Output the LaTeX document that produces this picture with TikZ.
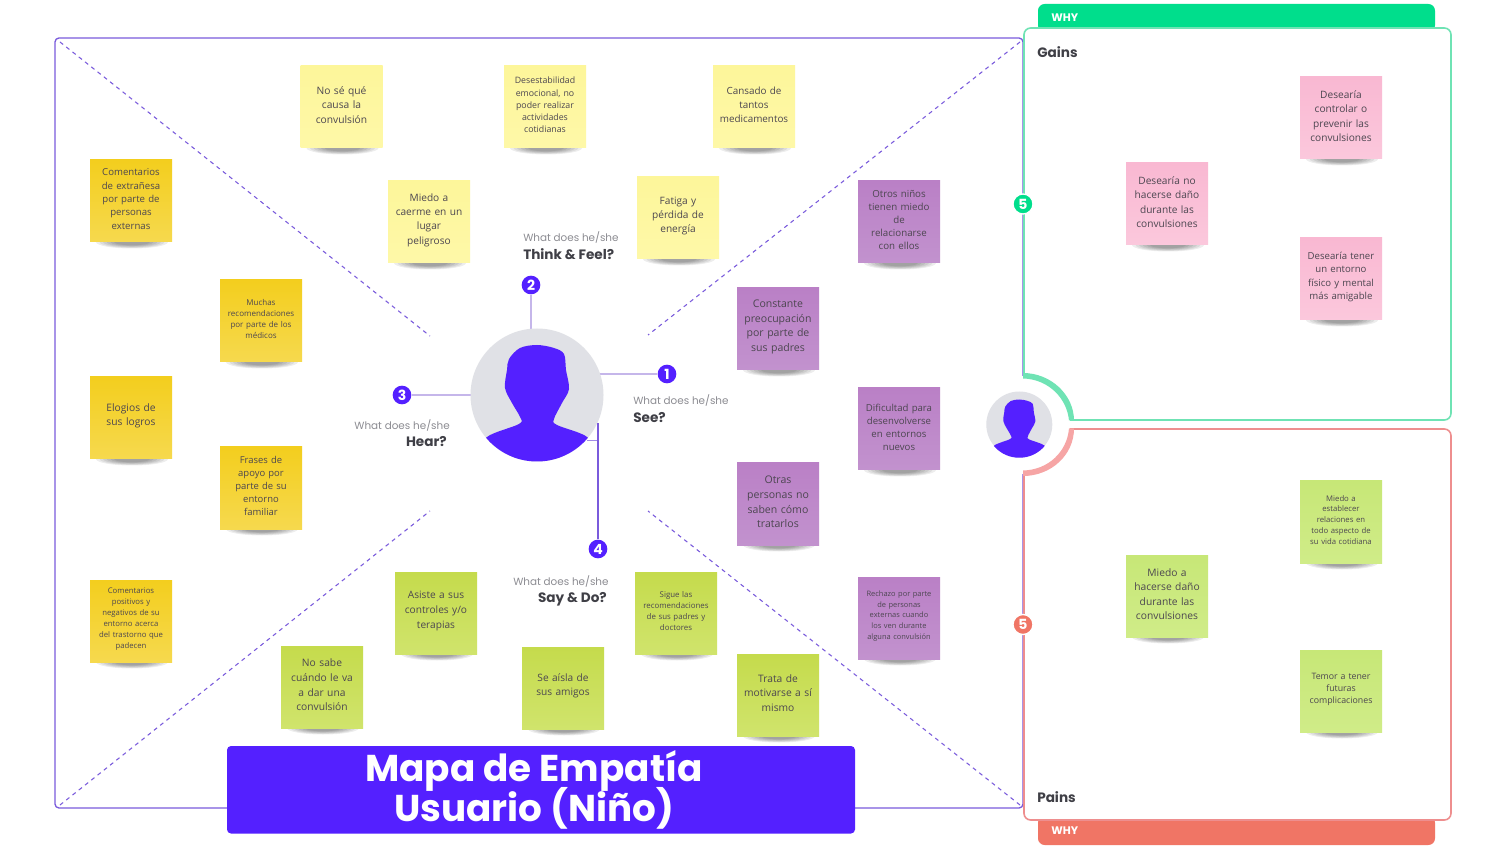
\documentclass[tikz,border=0pt]{standalone}
\usepackage{fontspec}
\setmainfont{Poppins}
\newfontfamily\notefont{Open Sans}
\definecolor{brand}{HTML}{5420FF}
\definecolor{framec}{HTML}{7A5BDC}
\definecolor{linec}{HTML}{C5B6EA}
\definecolor{mint}{HTML}{6FE3B4}
\definecolor{tabgreen}{HTML}{00DE8C}
\definecolor{tabred}{HTML}{F07565}
\definecolor{rosec}{HTML}{EE8E8E}
\definecolor{rosel}{HTML}{F6A5A5}
\definecolor{ink}{HTML}{4C4650}
\definecolor{headc}{HTML}{3F3F46}
\definecolor{subc}{HTML}{8C8C92}
\definecolor{disc}{HTML}{E0E1E6}
\definecolor{lemonA}{HTML}{FDF69A}\definecolor{lemonB}{HTML}{FEF8A8}
\definecolor{sunA}{HTML}{F3CE1E}\definecolor{sunB}{HTML}{F6D94E}
\definecolor{limeA}{HTML}{C5DB4C}\definecolor{limeB}{HTML}{D0E46C}
\definecolor{grapeA}{HTML}{BA80C6}\definecolor{grapeB}{HTML}{C292CE}
\definecolor{blushA}{HTML}{F9B8D2}\definecolor{blushB}{HTML}{FBC8DC}
\definecolor{freshA}{HTML}{C7E777}\definecolor{freshB}{HTML}{D0EC88}
\tikzset{
  x=0.75pt,y=-0.75pt,
  note/.style={minimum width=61.5pt,minimum height=61.5pt,inner sep=1pt,text width=59pt,align=center,text=ink},
  lemon/.style={note,top color=lemonA,bottom color=lemonB},
  sun/.style={note,top color=sunA,bottom color=sunB},
  lime/.style={note,top color=limeA,bottom color=limeB},
  grape/.style={note,top color=grapeA,bottom color=grapeB},
  blush/.style={note,top color=blushA,bottom color=blushB},
  fresh/.style={note,top color=freshA,bottom color=freshB},
  badge/.style={circle,fill=brand,text=white,inner sep=0pt,minimum size=14pt,font=\bfseries\fontsize{10.5}{10}\selectfont},
  spoke/.style={linec,line width=1.1pt},
  spokedark/.style={framec,line width=0.9pt},
  diag/.style={framec,line width=0.8pt,dash pattern=on 3pt off 3pt},
  sub/.style={text=subc,inner sep=0pt,font=\fontsize{7.8}{10}\selectfont},
  head/.style={text=headc,inner sep=0pt,font=\bfseries\fontsize{10.2}{12}\selectfont},
  whytext/.style={text=white,inner sep=0pt,font=\bfseries\fontsize{8.2}{10}\selectfont},
}
% name, x, y, style, size, leading, text
\newcommand{\stk}[7]{%
  \foreach \rr in {1,0.9,0.8,0.7,0.6,0.5}{\fill[black,opacity=0.07] (#2+1,#3+41) ellipse ({36*\rr} and {6.5*\rr});}
  \node[#4,font=\notefont\fontsize{#5}{#6}\selectfont] (#1) at (#2,#3) {#7\par\vspace{3pt}};}
% silhouette: centre x, y, scale
\newcommand{\silhouette}[3]{%
  \begin{scope}[shift={(#1,#2)},scale=#3]
    \clip (0,0) circle (66.5);
    \fill[brand] plot[smooth cycle,tension=0.55] coordinates {
      (0,-50) (17,-47) (27,-41) (29,-25) (32,-6) (25,8) (17,24) (20,30) (50,42) (54,60) (0,78) (-54,60)
      (-50,42) (-18,29) (-17,22) (-25,8) (-32,-7) (-30,-25) (-28,-36) (-17,-47)};
  \end{scope}}
\begin{document}
\begin{tikzpicture}
\lineskiplimit=-20pt
\useasboundingbox (0,0) rectangle (1507,848);
\fill[white] (0,0) rectangle (1507,848);
% main frame
\node[draw=framec,line width=1pt,rounded corners=3pt,minimum width=726pt,minimum height=577.5pt,inner sep=0pt] (frame) at (539,423) {};
\coordinate (tl) at (60,42); \coordinate (tr) at (1020,42); \coordinate (bl) at (60,805); \coordinate (br) at (1020,805);
\coordinate (itl) at (430,336); \coordinate (itr) at (648,335); \coordinate (ibl) at (430,511); \coordinate (ibr) at (648,511);
\draw[diag] (tl) -- (itl); \draw[diag] (tr) -- (itr); \draw[diag] (bl) -- (ibl); \draw[diag] (br) -- (ibr);
% badges and connectors
\coordinate (ac) at (537,395);
\coordinate (a4) at (597.5,423); \coordinate (a4s) at (587,440);
\node[badge] (b1) at (667,374) {1};
\node[badge] (b2) at (531,285) {2};
\node[badge] (b3) at (402,395) {3};
\node[badge] (b4) at (598,549) {4};
\draw[spoke] (b1.west) -- (b1.west -| ac);
\draw[spoke] (b2.south) -- (b2.south |- ac);
\draw[spoke] (b3.east) -- (b3.east -| ac);
\node[circle,fill=disc,minimum size=99.75pt,inner sep=0pt] (avatar) at (ac) {};
\silhouette{537}{395}{1}
\draw[spokedark] (b4.north) -- (b4.north |- a4);
\draw[spokedark,line width=0.6pt,opacity=.7] (a4s) -- (a4s -| b4);
% texts
\node[sub,anchor=base west] (t1) at (633,404.5) {What does he/she};
\node[head,anchor=base west] (h1) at (633,422.5) {See?};
\node[sub,anchor=base west] (t2) at (523,242) {What does he/she};
\node[head,anchor=base west] (h2) at (523,260) {Think \& Feel?};
\node[sub,anchor=base east] (t3) at (450,429.5) {What does he/she};
\node[head,anchor=base east] (h3) at (447,447) {Hear?};
\node[sub,anchor=base west] (t4) at (513,585) {What does he/she};
\node[head,anchor=base east] (h4) at (607,602) {Say \& Do?};
% stickies
\stk{n1}{341.5}{107}{lemon}{7.7}{11}{No sé qué\\causa la\\convulsión}
\stk{n2}{545}{107}{lemon}{6.6}{9.2}{Desestabilidad\\emocional, no\\poder realizar\\actividades\\cotidianas}
\stk{n3}{754}{107}{lemon}{7.4}{10.3}{Cansado de\\tantos\\medicamentos}
\stk{n4}{429}{222}{lemon}{7.6}{10.8}{Miedo a\\caerme en un\\lugar\\peligroso}
\stk{n5}{678}{218}{lemon}{7.6}{10.8}{Fatiga y\\pérdida de\\energía}
\stk{n6}{131}{201}{sun}{7.2}{10}{Comentarios\\de extrañesa\\por parte de\\personas\\externas}
\stk{n7}{261}{321}{sun}{6}{8.3}{Muchas\\recomendaciones\\por parte de los\\médicos}
\stk{n8}{131}{418}{sun}{7.7}{11}{Elogios de\\sus logros}
\stk{n9}{261}{488}{sun}{7.1}{9.8}{Frases de\\apoyo por\\parte de su\\entorno\\familiar}
\stk{n10}{131}{621}{sun}{5.8}{8.2}{Comentarios\\positivos y\\negativos de su\\entorno acerca\\del trastorno que\\padecen}
\stk{n11}{436}{613}{lime}{7.6}{11}{Asiste a sus\\controles y/o\\terapias}
\stk{n12}{676}{613}{lime}{5.9}{8.4}{Sigue las\\recomendaciones\\de sus padres y\\doctores}
\stk{n13}{322}{687}{lime}{7.7}{11}{No sabe\\cuándo le va\\a dar una\\convulsión}
\stk{n14}{563}{688}{lime}{7.6}{11}{Se aísla de\\sus amigos}
\stk{n15}{778}{695}{lime}{7.7}{11}{Trata de\\motivarse a sí\\mismo}
\stk{n16}{899}{222}{grape}{7.3}{9.8}{Otros niños\\tienen miedo\\de\\relacionarse\\con ellos}
\stk{n17}{778}{329}{grape}{7.9}{10.8}{Constante\\preocupación\\por parte de\\sus padres}
\stk{n18}{899}{429}{grape}{7.2}{9.8}{Dificultad para\\desenvolverse\\en entornos\\nuevos}
\stk{n19}{778}{504}{grape}{7.9}{10.9}{Otras\\personas no\\saben cómo\\tratarlos}
\stk{n20}{899}{618}{grape}{5.6}{8}{Rechazo por parte\\de personas\\externas cuando\\los ven durante\\alguna convulsión}
% right panels
\fill[white] (1015,376) rectangle (1035,474);
\fill[rounded corners=5pt,fill=tabgreen] (1038,32) -- (1038,4) -- (1435,4) -- (1435,32) -- cycle;
\fill[rounded corners=5pt,fill=tabred] (1038,816) -- (1038,845) -- (1435,845) -- (1435,816) -- cycle;
\fill[white] (1024,28) rectangle (1451,420);
\fill[white] (1024,429) rectangle (1451,820);
\draw[mint,line width=1.2pt,rounded corners=5pt] (1024,376) -- (1024,28) -- (1451,28) -- (1451,420) -- (1070,420);
\draw[rosec,line width=1.2pt,rounded corners=5pt] (1024,473) -- (1024,820) -- (1451,820) -- (1451,429) -- (1070,429);
\fill[mint] (1023,373) .. controls (1051,373) and (1074,395) .. (1074,420.5) -- (1069,420.5) .. controls (1067,398) and (1048,379) .. (1023,378.5) -- cycle;
\fill[rosel] (1023,476) .. controls (1051,476) and (1074,455) .. (1074,428.5) -- (1069,428.5) .. controls (1067,452) and (1048,470) .. (1023,470.5) -- cycle;
\node[circle,fill=disc,minimum size=49.5pt,inner sep=0pt] (avatar2) at (1019.3,424.5) {};
\silhouette{1019.3}{424.5}{0.5}
\node[whytext,anchor=west] (w1) at (1051,18) {WHY};
\node[whytext,anchor=west] (w2) at (1051,831) {WHY};
\node[head,anchor=base west] (gains) at (1037,58) {Gains};
\node[head,anchor=base west] (pains) at (1037,802) {Pains};
\node[badge,fill=tabgreen,draw=white,line width=1pt,minimum size=15pt] (g5) at (1023,204) {5};
\node[badge,fill=tabred,draw=white,line width=1pt,minimum size=15pt] (r5) at (1023,624.5) {5};
\stk{p1}{1341}{118}{blush}{7.6}{10.8}{Desearía\\controlar o\\prevenir las\\convulsiones}
\stk{p2}{1167}{204}{blush}{7.6}{10.8}{Desearía no\\hacerse daño\\durante las\\convulsiones}
\stk{p3}{1341}{279}{blush}{7.2}{9.9}{Desearía tener\\un entorno\\físico y mental\\más amigable}
\stk{q1}{1341}{522}{fresh}{5.8}{8.2}{Miedo a\\establecer\\relaciones en\\todo aspecto de\\su vida cotidiana}
\stk{q2}{1167}{596}{fresh}{7.7}{10.8}{Miedo a\\hacerse daño\\durante las\\convulsiones}
\stk{q3}{1341}{691}{fresh}{6.6}{9}{Temor a tener\\futuras\\complicaciones}
% title
\fill[brand,rounded corners=3pt] (227,746) rectangle (855,833.5);
\node[text=white,align=center,inner sep=0pt,font=\bfseries\fontsize{28}{30.2}\selectfont] (title) at (534,790) {Mapa de Empatía\\Usuario (Niño)};
\end{tikzpicture}
\end{document}
